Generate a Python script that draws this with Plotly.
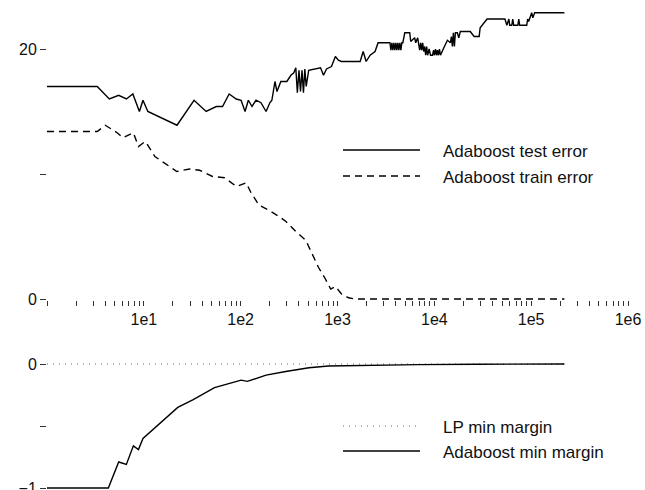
import plotly.graph_objects as go

# ---------------- data ----------------
test_x = [1, 3.3, 4.4, 5.5, 6.6, 7.7, 9.0, 9.8, 11, 22, 33, 44, 56, 65, 76, 90, 101, 111, 120, 131,
          144, 162, 183, 200, 210, 226, 237, 260, 300, 330, 354, 371,
          385, 400, 415, 430, 445, 460, 475, 504,
          668, 717, 770, 866, 951, 1021, 1096, 1714, 1841, 1977, 2172, 2443, 2624, 3478,
          3560, 3645, 3730, 3822, 3910, 4008, 4100, 4202, 4300, 4406, 4510, 4620, 4727,
          4952, 5572, 5705, 6268, 6420, 6731, 7058,
          7230, 7400, 7580, 7760, 7950, 8136, 8330, 8520, 8830, 9140, 9590,
          9820, 10050, 10290, 10530, 10780, 11040, 11300, 11570, 12130, 12710, 13650, 14660,
          15000, 15360, 15730, 16110, 16500, 17270, 17900, 18540, 23480, 25770, 29040, 29720,
          32660, 35060, 53580, 56100, 58870, 60000, 63100, 64500, 66000, 72780, 74500, 76000,
          83750, 89950, 92000, 94260, 101200, 104000, 108600, 220300]
test_y = [17.0, 17.0, 16.0, 16.3, 16.0, 16.4, 15.0, 15.9, 15.0, 13.9, 15.9, 15.0, 15.4, 15.4, 16.4,
          16.0, 15.9, 15.0, 15.9, 15.4, 15.9, 15.7, 15.0, 15.7, 15.9, 17.4, 16.6, 17.4, 17.4, 17.9,
          18.1, 18.5,
          16.5, 18.3, 16.6, 18.3, 16.5, 18.4, 17.0, 18.3,
          18.5, 17.9, 18.4, 18.6, 19.4, 19.1, 19.0, 19.0, 19.8, 19.0, 19.5, 19.8, 20.5, 20.5,
          19.9, 20.5, 19.9, 20.5, 19.9, 20.5, 19.9, 20.5, 19.9, 20.5, 19.9, 20.5, 20.5,
          21.3, 21.3, 20.6, 20.9, 20.5, 20.9, 19.9,
          20.5, 19.9, 20.5, 19.8, 20.2, 19.5, 20.2, 19.5, 20.0, 19.5, 19.5,
          19.9, 19.5, 20.0, 19.5, 19.9, 19.5, 20.0, 19.5, 19.9, 20.2, 20.7, 20.5,
          21.0, 20.2, 21.3, 20.2, 21.3, 21.3, 20.9, 21.4, 21.4, 21.0, 21.0, 21.7,
          22.1, 22.4, 22.4, 21.9, 22.4, 21.9, 21.9, 22.4, 21.9, 21.9, 22.4, 21.9,
          21.9, 21.9, 22.4, 22.2, 22.9, 22.5, 22.9, 22.9]

train_x = [1, 3.3, 4.0, 5.3, 6.1, 7.8, 8.8, 10.3, 10.8, 13.0, 21.9, 29.7, 37.7, 51.2, 68.2, 90.4,
           114, 128, 155, 196, 249, 294, 372, 470, 504, 567, 639, 750, 850, 952, 1100, 1300, 1520,
           220300]
train_y = [13.4, 13.4, 13.9, 13.3, 12.9, 13.3, 12.2, 12.6, 12.4, 11.4, 10.2, 10.4, 10.3, 9.8, 9.7,
           9.0, 9.3, 8.5, 7.5, 7.1, 6.6, 6.2, 5.4, 4.7, 4.2, 3.4, 2.5, 1.6, 0.8, 1.0, 0.4, 0.1, 0.0,
           0.0]

lp_x = [1, 220300]
lp_y = [0.0, 0.0]

ada_x = [1, 4.3, 5.5, 6.6, 7.8, 8.8, 9.8, 14.7, 22.4, 32, 53.7, 82, 101, 117, 183, 292, 507, 807,
         2070, 6780, 27700, 220300]
ada_y = [-1.0, -1.0, -0.79, -0.81, -0.66, -0.69, -0.60, -0.48, -0.35, -0.29, -0.19, -0.15, -0.13,
         -0.14, -0.09, -0.06, -0.03, -0.016, -0.01, -0.005, -0.002, 0.0]

x_tick_labels = ["1e1", "1e2", "1e3", "1e4", "1e5", "1e6"]
top_y_ticks = [0, 10, 20]
top_y_labels = ["0", "", "20"]
bot_y_ticks = [-1, -0.5, 0]
bot_y_labels = ["\u22121", "", "0"]
legend_top = ["Adaboost test error", "Adaboost train error"]
legend_bot = ["LP min margin", "Adaboost min margin"]

# ---------------- layout helpers ----------------
W, H = 645, 490
ML, MR = 47, 17
FONT = "Liberation Sans, Arial, sans-serif"
INK = "#111111"


def px_x(p):
    return (p - ML) / (W - ML - MR)


def px_y(p):
    return (H - p) / H


# x ticks: every 1..9 per decade (minor marks), labels only at powers of ten >= 10
xt_vals, xt_text = [], []
for k in range(6):
    for m in range(1, 10):
        xt_vals.append(m * 10 ** k)
        xt_text.append(x_tick_labels[k - 1] if (m == 1 and k >= 1) else "")
xt_vals.append(10 ** 6)
xt_text.append(x_tick_labels[-1])

fig = go.Figure()
fig.add_trace(go.Scatter(x=test_x, y=test_y, mode="lines", xaxis="x", yaxis="y",
                         line=dict(color="#000000", width=1.4), showlegend=False))
fig.add_trace(go.Scatter(x=train_x, y=train_y, mode="lines", xaxis="x", yaxis="y",
                         line=dict(color="#000000", width=1.4, dash="7px,5px"), showlegend=False))
fig.add_trace(go.Scatter(x=lp_x, y=lp_y, mode="lines", xaxis="x2", yaxis="y2",
                         line=dict(color="#666666", width=1, dash="1px,5px"), showlegend=False))
fig.add_trace(go.Scatter(x=ada_x, y=ada_y, mode="lines", xaxis="x2", yaxis="y2",
                         line=dict(color="#000000", width=1.4), showlegend=False))

top_dom = [px_y(300), px_y(2)]
bot_dom = [px_y(489), px_y(355)]

axis_common = dict(showgrid=False, zeroline=False, showline=False, automargin=False)

fig.update_layout(
    width=W, height=H,
    margin=dict(l=ML, r=MR, t=0, b=0, pad=0, autoexpand=False),
    paper_bgcolor="white", plot_bgcolor="white",
    font=dict(family=FONT, size=16, color=INK),
    xaxis=dict(type="log", range=[0, 6], domain=[0, 1], anchor="y",
               tickmode="array", tickvals=xt_vals, ticktext=xt_text,
               ticks="outside", ticklen=5, tickwidth=1, tickcolor="#333333",
               tickfont=dict(size=16), ticklabeloverflow="allow", **axis_common),
    yaxis=dict(range=[-0.08, 23.76], domain=top_dom, anchor="x",
               tickmode="array", tickvals=top_y_ticks, ticktext=top_y_labels,
               ticks="outside", ticklen=6, tickwidth=1, tickcolor="#333333",
               tickfont=dict(size=16), ticklabeloverflow="allow", **axis_common),
    xaxis2=dict(type="log", range=[0, 6], domain=[0, 1], anchor="y2", matches="x",
                showticklabels=False, ticks="", **axis_common),
    yaxis2=dict(range=[-1.00806, 0.0726], domain=bot_dom, anchor="x2",
                tickmode="array", tickvals=bot_y_ticks, ticktext=bot_y_labels,
                ticks="outside", ticklen=6, tickwidth=1, tickcolor="#333333",
                tickfont=dict(size=16), ticklabeloverflow="allow", **axis_common),
)

# legends drawn as paper-positioned samples + labels
legend_rows = [
    (legend_top[0], 150, dict(color="#000000", width=1.4)),
    (legend_top[1], 176, dict(color="#000000", width=1.4, dash="7px,5px")),
    (legend_bot[0], 426, dict(color="#666666", width=1, dash="1px,5px")),
    (legend_bot[1], 451, dict(color="#000000", width=1.4)),
]
for label, ypx, ln in legend_rows:
    fig.add_shape(type="line", xref="paper", yref="paper",
                  x0=px_x(343), x1=px_x(420), y0=px_y(ypx), y1=px_y(ypx), line=ln)
    fig.add_annotation(xref="paper", yref="paper", x=px_x(441), y=px_y(ypx + 1),
                       text=label, showarrow=False, xanchor="left", yanchor="middle",
                       font=dict(family=FONT, size=17, color=INK))

fig.write_html("out.html")
